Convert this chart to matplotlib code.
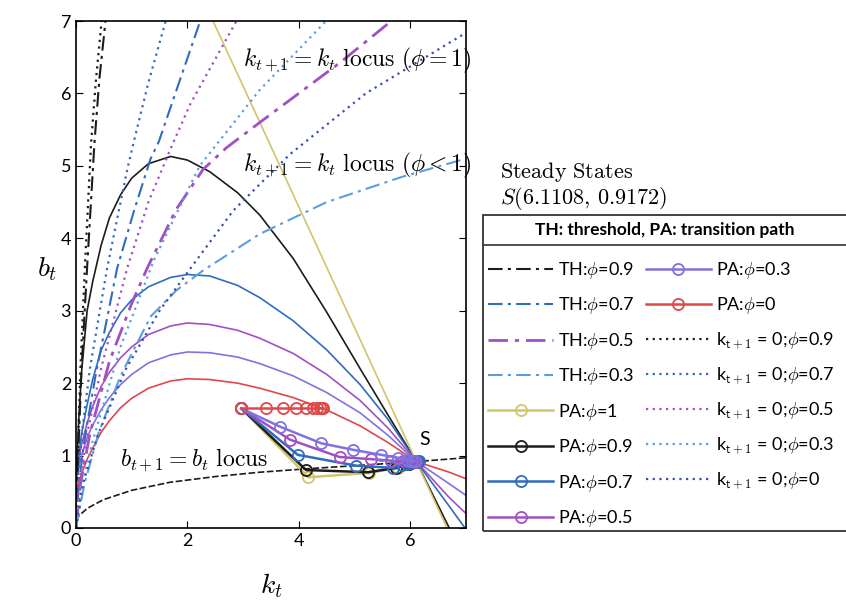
import matplotlib.pyplot as plt
from matplotlib.lines import Line2D
from matplotlib.patches import Rectangle

plt.rcParams['font.family'] = ['Lato', 'DejaVu Sans']
plt.rcParams['mathtext.fontset'] = 'cm'

# k_{t+1} = k_t loci (phi < 1), common k grid
hump_k = [0, 0.02, 0.05, 0.1, 0.2, 0.3, 0.45, 0.6, 0.8, 1.0, 1.3, 1.7, 2.0, 2.4, 2.9, 3.3, 3.9, 4.5, 5.1, 5.6, 6.11, 6.7, 7.0]
hump_09 = [0.3, 1.0, 1.5, 2.15, 3.0, 3.4, 3.9, 4.28, 4.6, 4.83, 5.03, 5.13, 5.08, 4.92, 4.63, 4.32, 3.72, 2.98, 2.2, 1.56, 0.917, 0.0, -0.45]
hump_07 = [0.4, 0.8, 1.0, 1.3, 1.7, 2.05, 2.45, 2.7, 2.97, 3.15, 3.33, 3.46, 3.5, 3.48, 3.35, 3.18, 2.86, 2.46, 1.98, 1.5, 0.917, 0.3, -0.02]
hump_05 = [0.5, 0.75, 0.95, 1.15, 1.45, 1.68, 1.95, 2.15, 2.35, 2.5, 2.67, 2.79, 2.83, 2.81, 2.73, 2.62, 2.41, 2.12, 1.76, 1.38, 0.917, 0.42, 0.2]
hump_03 = [0.5, 0.7, 0.85, 1.0, 1.25, 1.42, 1.63, 1.8, 1.98, 2.12, 2.28, 2.39, 2.43, 2.42, 2.36, 2.27, 2.1, 1.87, 1.59, 1.28, 0.917, 0.61, 0.45]
hump_00 = [0.3, 0.5, 0.62, 0.75, 0.95, 1.1, 1.32, 1.48, 1.66, 1.79, 1.93, 2.03, 2.06, 2.05, 2.0, 1.93, 1.8, 1.63, 1.41, 1.18, 0.917, 0.77, 0.68]

# k_{t+1} = k_t locus for phi = 1
line1_k = [2.46, 6.11, 6.66]
line1_b = [7.0, 0.917, 0.0]

# b_{t+1} = b_t locus
bloc_k = [0, 0.02, 0.07, 0.2, 0.49, 1.0, 1.68, 2.5, 3.3, 4.2, 5.0, 6.11, 7.0]
bloc_b = [0.1, 0.14, 0.18, 0.27, 0.39, 0.52, 0.63, 0.71, 0.77, 0.82, 0.86, 0.917, 0.97]

# thresholds
th09_k = [0, 0.04, 0.1, 0.2, 0.33, 0.42, 0.53]
th09_b = [0, 1.0, 2.2, 3.6, 5.3, 6.2, 7.0]
th07_k = [0, 0.05, 0.15, 0.35, 0.74, 1.05, 1.34, 1.49, 1.85, 2.23]
th07_b = [0, 0.6, 1.2, 2.1, 3.59, 4.4, 5.1, 5.34, 6.15, 7.0]
th05_k = [0, 0.08, 0.25, 0.6, 1.0, 1.28, 1.8, 2.28, 2.7, 3.3, 4.73, 5.66]
th05_b = [0, 0.6, 1.3, 2.3, 3.1, 3.59, 4.4, 4.95, 5.25, 5.6, 6.42, 7.0]
th03_k = [0, 0.15, 0.4, 0.8, 1.34, 1.8, 2.29, 3.3, 4.5, 5.86, 7.0]
th03_b = [0, 0.6, 1.3, 2.1, 2.92, 3.28, 3.56, 4.06, 4.5, 4.85, 5.1]

# k_{t+1} = 0 curves
kz09_k = [0, 0.03, 0.08, 0.16, 0.27, 0.36, 0.46]
kz09_b = [0, 1.0, 2.2, 3.6, 5.3, 6.2, 7.0]
kz07_k = [0, 0.04, 0.12, 0.25, 0.56, 0.92, 1.04, 1.3, 1.61]
kz07_b = [0, 0.7, 1.4, 2.2, 3.59, 4.95, 5.34, 6.15, 7.0]
kz05_k = [0, 0.06, 0.2, 0.45, 0.92, 1.3, 1.7, 2.05, 2.41, 2.88]
kz05_b = [0, 0.6, 1.3, 2.2, 3.59, 4.5, 5.24, 5.85, 6.35, 7.0]
kz03_k = [0, 0.1, 0.3, 0.8, 1.4, 2.22, 3.3, 4.49]
kz03_b = [0, 0.6, 1.2, 2.5, 3.7, 5.0, 6.05, 7.0]
kz00_k = [0, 0.12, 0.4, 0.9, 1.5, 2.06, 2.82, 3.84, 5.2, 6.94]
kz00_b = [0, 0.6, 1.3, 2.2, 3.0, 3.59, 4.38, 5.16, 6.0, 6.81]

# transition paths
pa1_k = [2.97, 4.17, 5.26, 5.78, 5.98, 6.07, 6.1]
pa1_b = [1.65, 0.70, 0.76, 0.83, 0.88, 0.905, 0.915]
pa09_k = [2.97, 4.13, 5.24, 5.75, 5.97, 6.06, 6.1]
pa09_b = [1.65, 0.80, 0.77, 0.83, 0.88, 0.905, 0.915]
pa07_k = [2.97, 3.98, 5.03, 5.69, 5.86, 5.95, 6.02, 6.07, 6.1, 6.13, 6.15, 6.13, 6.11]
pa07_b = [1.65, 1.01, 0.86, 0.83, 0.87, 0.89, 0.90, 0.91, 0.915, 0.92, 0.918, 0.917, 0.917]
pa05_k = [2.97, 3.84, 4.73, 5.3, 5.65, 5.87, 6.0, 6.06, 6.1]
pa05_b = [1.65, 1.22, 0.98, 0.95, 0.93, 0.92, 0.92, 0.918, 0.917]
pa03_k = [2.97, 3.66, 4.4, 4.97, 5.48, 5.78, 5.95, 6.04, 6.09]
pa03_b = [1.65, 1.40, 1.17, 1.08, 1.01, 0.97, 0.94, 0.925, 0.92]
pa00_k = [2.97, 3.41, 3.71, 3.95, 4.13, 4.25, 4.33, 4.38, 4.41, 4.43]
pa00_b = [1.65, 1.65, 1.65, 1.65, 1.65, 1.65, 1.65, 1.65, 1.65, 1.65]

c_blk = '#1c1c1c'
c_blu = '#2f6cc0'
c_pur = '#a24fc4'
c_lb = '#5a9ee0'
c_vio = '#7f73e0'
c_red = '#e04848'
c_yel = '#d2c46a'

fig = plt.figure(figsize=(8.46, 6.13), dpi=100)
ax = fig.add_axes([0.0898, 0.1387, 0.461, 0.827])

# loci
ax.plot(hump_k, hump_09, color=c_blk, lw=1.2)
ax.plot(hump_k, hump_07, color=c_blu, lw=1.2)
ax.plot(hump_k, hump_05, color=c_pur, lw=1.2)
ax.plot(hump_k, hump_03, color=c_vio, lw=1.2)
ax.plot(hump_k, hump_00, color=c_red, lw=1.2)
ax.plot(line1_k, line1_b, color=c_yel, lw=1.2)
ax.plot(bloc_k, bloc_b, color=c_blk, lw=1.2, ls=(0, (4, 1.5)))

dd = (0, (7, 2.5, 1.5, 2.5))
h = []
h.append(ax.plot(th09_k, th09_b, color=c_blk, lw=1.5, ls=dd, label='TH:$\\phi$=0.9')[0])
h.append(ax.plot(th07_k, th07_b, color=c_blu, lw=1.5, ls=dd, label='TH:$\\phi$=0.7')[0])
h.append(ax.plot(th05_k, th05_b, color=c_pur, lw=2.0, ls=dd, label='TH:$\\phi$=0.5')[0])
h.append(ax.plot(th03_k, th03_b, color=c_lb, lw=1.5, ls=dd, label='TH:$\\phi$=0.3')[0])

pa_kw = dict(marker='o', mfc='none', ms=8, mew=1.3, lw=1.8, zorder=5)
h.append(ax.plot(pa1_k, pa1_b, color=c_yel, label='PA:$\\phi$=1', **pa_kw)[0])
h.append(ax.plot(pa09_k, pa09_b, color=c_blk, label='PA:$\\phi$=0.9', **pa_kw)[0])
h.append(ax.plot(pa07_k, pa07_b, color=c_blu, label='PA:$\\phi$=0.7', **pa_kw)[0])
h.append(ax.plot(pa05_k, pa05_b, color=c_pur, label='PA:$\\phi$=0.5', **pa_kw)[0])
h.append(ax.plot(pa03_k, pa03_b, color=c_vio, label='PA:$\\phi$=0.3', **pa_kw)[0])
h.append(ax.plot(pa00_k, pa00_b, color=c_red, label='PA:$\\phi$=0', **pa_kw)[0])

dot = (0, (1, 2))
h.append(ax.plot(kz09_k, kz09_b, color=c_blk, lw=1.6, ls=dot, label='k$_{\\mathsf{t+1}}$ = 0;$\\phi$=0.9')[0])
h.append(ax.plot(kz07_k, kz07_b, color=c_blu, lw=1.6, ls=dot, label='k$_{\\mathsf{t+1}}$ = 0;$\\phi$=0.7')[0])
h.append(ax.plot(kz05_k, kz05_b, color=c_pur, lw=1.6, ls=dot, label='k$_{\\mathsf{t+1}}$ = 0;$\\phi$=0.5')[0])
h.append(ax.plot(kz03_k, kz03_b, color=c_lb, lw=1.6, ls=dot, label='k$_{\\mathsf{t+1}}$ = 0;$\\phi$=0.3')[0])
h.append(ax.plot(kz00_k, kz00_b, color='#3a50b0', lw=1.6, ls=dot, label='k$_{\\mathsf{t+1}}$ = 0;$\\phi$=0')[0])

ax.set_xlim(0, 7)
ax.set_ylim(0, 7)
ax.set_xticks([0, 2, 4, 6])
ax.set_yticks(range(8))
ax.tick_params(direction='in', top=True, right=True, length=5, labelsize=13)
for s in ax.spines.values():
    s.set_linewidth(1.2)

ax.set_xlabel(r'$k_t$', fontsize=20)
ax.xaxis.set_label_coords(0.5, -0.085)
ax.set_ylabel(r'$b_t$', fontsize=20, rotation=0, va='center', ha='center')
ax.yaxis.set_label_coords(-0.075, 0.51)

ax.text(2.99, 6.46, r'$k_{t+1} = k_t\ \mathrm{locus}\ (\phi = 1)$', fontsize=17, va='center', clip_on=False)
ax.text(2.99, 5.0, r'$k_{t+1} = k_t\ \mathrm{locus}\ (\phi < 1)$', fontsize=17, va='center', clip_on=False)
ax.text(0.79, 0.93, r'$b_{t+1} = b_t\ \mathrm{locus}$', fontsize=17, va='center')
ax.text(6.25, 1.22, 'S', fontsize=14, va='center', ha='center')

fig.text(500 / 846, 1 - 172 / 613, r'$\mathrm{Steady\ States}$', fontsize=16, va='center')
fig.text(500 / 846, 1 - 199 / 613, r'$S(6.1108,\,0.9172)$', fontsize=16, va='center')

# legend box
fig.add_artist(Rectangle((483 / 846, 1 - 531 / 613), 0.6, (531 - 215) / 613,
                         transform=fig.transFigure, fill=False, ec='#333333', lw=1.3))
fig.add_artist(Line2D([483 / 846, 1], [1 - 245 / 613, 1 - 245 / 613],
                      transform=fig.transFigure, color='#333333', lw=1.2))
fig.text(665 / 846, 1 - 230 / 613, 'TH: threshold, PA: transition path',
         fontsize=12.5, weight='bold', ha='center', va='center')
ax.legend(handles=h, loc='upper left', bbox_to_anchor=(488 / 846, 1 - 260 / 613),
          bbox_transform=fig.transFigure, ncol=2, frameon=False, fontsize=13,
          handlelength=3.6, handletextpad=0.3, columnspacing=0.6,
          labelspacing=0.8, borderpad=0, borderaxespad=0)

fig.savefig('out.png', dpi=100)
